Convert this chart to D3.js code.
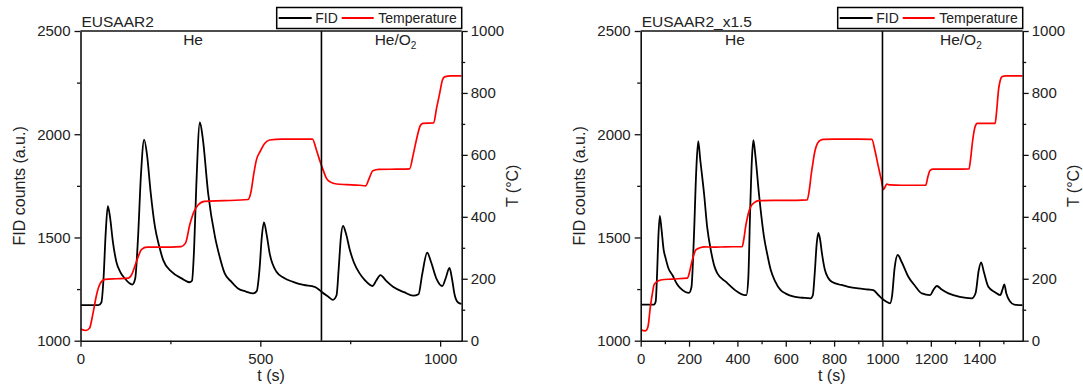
<!DOCTYPE html>
<html>
<head>
<meta charset="utf-8">
<script src="https://cdn.jsdelivr.net/npm/d3@7"></script>
<style>
  html, body { margin: 0; padding: 0; background: #fff; }
  svg { display: block; font-family: "Liberation Sans", Arial, sans-serif; }
</style>
</head>
<body>
<svg id="chart" width="1083" height="389"></svg>
<script>
// ---- Data -------------------------------------------------------------
const titles = ["EUSAAR2", "EUSAAR2_x1.5"];
const legendLabels = ["FID", "Temperature"];
const phaseLabels = ["He", "He/O"];
const fidTicks = [1000, 1500, 2000, 2500];
const fidMinorTicks = [1250, 1750, 2250];
const tempTicks = [0, 200, 400, 600, 800, 1000];
const tempMinorTicks = [100, 300, 500, 700, 900];
const timeTicksA = [0, 500, 1000];
const timeMinorTicksA = [250, 750];
const timeTicksB = [0, 200, 400, 600, 800, 1000, 1200, 1400];
const timeMinorTicksB = [100, 300, 500, 700, 900, 1100, 1300, 1500];
const timeMaxA = 1060;
const timeMaxB = 1580;
const switchTimeA = 670;   // carrier gas switch He -> He/O2
const switchTimeB = 1000;
const phaseLabelTimeA = [313, 818];
const phaseLabelTimeB = [390, 1238];

// FID signal, protocol EUSAAR2: [t (s), counts]
const fidA = [
  [0,1172],[50,1172],[58,1185],[64,1300],[70,1520],[76,1652],[82,1600],[90,1480],
  [100,1380],[110,1335],[124,1300],[135,1280],[144,1272],[152,1300],[160,1500],
  [168,1800],[177,1974],[185,1900],[195,1720],[207,1552],[220,1450],[230,1390],
  [253,1334],[281,1302],[304,1283],[310,1290],[316,1450],[322,1750],[332,2057],
  [340,1980],[355,1713],[374,1503],[385,1420],[401,1326],[420,1285],[438,1253],
  [460,1238],[480,1229],[490,1240],[498,1350],[504,1500],[510,1573],[518,1510],
  [526,1423],[545,1334],[565,1305],[591,1285],[620,1270],[651,1261],[660,1252],
  [670,1237],[690,1212],[702,1198],[712,1220],[718,1350],[724,1500],[730,1556],
  [738,1520],[749,1439],[760,1380],[776,1326],[790,1295],[812,1265],[822,1290],
  [834,1318],[850,1290],[869,1261],[900,1235],[925,1218],[940,1225],[950,1320],
  [964,1426],[975,1380],[990,1300],[1006,1265],[1015,1300],[1026,1352],[1033,1300],
  [1040,1225],[1050,1185],[1060,1178]
];
// Oven temperature, protocol EUSAAR2: [t (s), °C]
const tempA = [
  [0,38],[15,33],[25,40],[35,90],[45,150],[55,185],[68,198],[100,200],[133,202],
  [143,215],[151,240],[160,270],[170,295],[185,302],[220,302],[280,304],[292,315],
  [304,375],[315,415],[327,438],[345,450],[400,452],[466,456],[474,480],[482,540],
  [489,583],[500,612],[512,637],[526,648],[560,651],[600,651],[645,651],[655,620],
  [665,583],[675,550],[684,524],[695,512],[712,506],[740,504],[776,502],[793,500],
  [803,525],[813,549],[830,553],[880,554],[915,555],[925,600],[934,648],[945,695],
  [952,702],[982,703],[990,750],[999,800],[1006,840],[1012,852],[1030,855],[1060,855]
];
// FID signal, protocol EUSAAR2_x1.5
const fidB = [
  [0,1175],[55,1175],[62,1190],[68,1330],[73,1500],[79,1605],[86,1540],[95,1440],
  [103,1400],[115,1350],[131,1318],[150,1275],[165,1253],[185,1236],[200,1232],
  [210,1260],[220,1500],[230,1830],[238,1966],[246,1880],[262,1713],[275,1550],
  [290,1439],[305,1360],[317,1326],[352,1286],[400,1237],[425,1222],[437,1221],
  [445,1300],[452,1600],[460,1880],[466,1971],[474,1900],[489,1713],[510,1503],
  [525,1410],[538,1342],[555,1290],[579,1245],[600,1228],[634,1213],[670,1208],
  [703,1205],[712,1220],[720,1330],[728,1470],[735,1522],[742,1490],[750,1420],
  [762,1342],[775,1305],[790,1286],[830,1270],[859,1261],[900,1253],[940,1248],
  [962,1245],[980,1225],[997,1205],[1015,1190],[1031,1181],[1040,1220],[1050,1350],
  [1063,1415],[1080,1380],[1107,1310],[1135,1265],[1163,1229],[1197,1221],[1210,1245],
  [1225,1265],[1245,1248],[1273,1229],[1320,1212],[1369,1205],[1385,1230],[1398,1340],
  [1408,1379],[1420,1330],[1438,1261],[1465,1235],[1487,1221],[1497,1250],[1504,1273],
  [1512,1230],[1528,1190],[1545,1175],[1580,1172]
];
// Oven temperature, protocol EUSAAR2_x1.5
const tempB = [
  [0,35],[20,32],[30,45],[40,110],[50,160],[55,180],[70,192],[83,196],[130,199],
  [193,202],[200,215],[207,239],[217,270],[228,293],[245,300],[262,303],[300,302],
  [350,303],[420,304],[427,330],[434,368],[445,410],[455,433],[470,446],[489,452],
  [550,453],[600,453],[689,455],[698,490],[705,535],[710,562],[720,610],[731,637],
  [745,648],[756,650],[800,651],[900,651],[956,650],[970,610],[983,562],[995,520],
  [1004,488],[1010,495],[1018,506],[1030,503],[1080,502],[1179,502],[1188,530],
  [1197,550],[1210,554],[1300,554],[1358,555],[1365,590],[1372,640],[1383,691],
  [1392,702],[1466,702],[1472,740],[1480,810],[1487,840],[1494,852],[1510,855],[1580,855]
];

// ---- Drawing -----------------------------------------------------------
const svg = d3.select("#chart");
const TEXT = "#222";
const FONT = 15;
const fmt = d3.format("d");

const panels = [
  { left: 80.5, right: 461.7, title: titles[0], fid: fidA, temp: tempA, tMax: timeMaxA,
    ticks: timeTicksA, minor: timeMinorTicksA, sw: switchTimeA, labelT: phaseLabelTimeA, id: "a" },
  { left: 640.7, right: 1022.7, title: titles[1], fid: fidB, temp: tempB, tMax: timeMaxB,
    ticks: timeTicksB, minor: timeMinorTicksB, sw: switchTimeB, labelT: phaseLabelTimeB, id: "b" }
];
const plotTop = 31, plotBottom = 340.7;

function styleAxis(g) {
  g.selectAll("path.domain").attr("stroke", "#111").attr("stroke-width", 1.6);
  g.selectAll(".tick line").attr("stroke", "#111").attr("stroke-width", 1.3);
  g.selectAll(".tick text").attr("fill", TEXT).style("font-size", FONT + "px")
    .style("font-family", '"Liberation Sans", Arial, sans-serif');
}

panels.forEach(p => {
  const x = d3.scaleLinear().domain([0, p.tMax]).range([p.left, p.right]);
  const yF = d3.scaleLinear().domain([1000, 2500]).range([plotBottom, plotTop]);
  const yT = d3.scaleLinear().domain([0, 1000]).range([plotBottom, plotTop]);

  const clipId = "clip-" + p.id;
  svg.append("clipPath").attr("id", clipId).append("rect")
    .attr("x", p.left).attr("y", plotTop).attr("width", p.right - p.left).attr("height", plotBottom - plotTop);

  const curve = d3.curveMonotoneX;
  const plot = svg.append("g").attr("clip-path", `url(#${clipId})`);
  plot.append("path").datum(p.fid)
    .attr("d", d3.line().x(d => x(d[0])).y(d => yF(d[1])).curve(curve))
    .attr("fill", "none").attr("stroke", "#000").attr("stroke-width", 1.8)
    .attr("stroke-linejoin", "round");
  plot.append("path").datum(p.temp)
    .attr("d", d3.line().x(d => x(d[0])).y(d => yT(d[1])).curve(curve))
    .attr("fill", "none").attr("stroke", "#f00").attr("stroke-width", 1.7)
    .attr("stroke-linejoin", "round");

  // gas switch marker
  svg.append("line").attr("x1", x(p.sw)).attr("x2", x(p.sw)).attr("y1", plotTop).attr("y2", plotBottom)
    .attr("stroke", "#000").attr("stroke-width", 1.6);

  // frame top
  svg.append("line").attr("x1", p.left).attr("x2", p.right).attr("y1", plotTop).attr("y2", plotTop)
    .attr("stroke", "#111").attr("stroke-width", 1.6);

  // bottom axis
  const gxMinor = svg.append("g").attr("transform", `translate(0,${plotBottom})`)
    .call(d3.axisBottom(x).tickValues(p.minor).tickSize(3.5).tickSizeOuter(0).tickFormat(""));
  gxMinor.select("path.domain").remove();
  styleAxis(gxMinor);
  const gx = svg.append("g").attr("transform", `translate(0,${plotBottom})`)
    .call(d3.axisBottom(x).tickValues(p.ticks).tickFormat(fmt).tickSize(6).tickSizeOuter(0));
  styleAxis(gx);
  gx.selectAll(".tick text").attr("dy", "0.71em").attr("y", 13);

  // left axis (FID)
  const gyMinor = svg.append("g").attr("transform", `translate(${p.left},0)`)
    .call(d3.axisLeft(yF).tickValues(fidMinorTicks).tickSize(3.5).tickSizeOuter(0).tickFormat(""));
  gyMinor.select("path.domain").remove();
  styleAxis(gyMinor);
  const gy = svg.append("g").attr("transform", `translate(${p.left},0)`)
    .call(d3.axisLeft(yF).tickValues(fidTicks).tickFormat(fmt).tickSize(6).tickSizeOuter(0).tickPadding(4));
  styleAxis(gy);

  // right axis (temperature)
  const grMinor = svg.append("g").attr("transform", `translate(${p.right},0)`)
    .call(d3.axisRight(yT).tickValues(tempMinorTicks).tickSize(3.5).tickSizeOuter(0).tickFormat(""));
  grMinor.select("path.domain").remove();
  styleAxis(grMinor);
  const gr = svg.append("g").attr("transform", `translate(${p.right},0)`)
    .call(d3.axisRight(yT).tickValues(tempTicks).tickFormat(fmt).tickSize(6).tickSizeOuter(0).tickPadding(3));
  styleAxis(gr);

  // axis titles
  svg.append("text").attr("transform", `translate(${p.left - 61},${(plotTop + plotBottom) / 2}) rotate(-90)`)
    .attr("text-anchor", "middle").attr("dy", "0.35em").attr("fill", TEXT)
    .style("font-size", "16px").text("FID counts (a.u.)");
  svg.append("text").attr("transform", `translate(${p.right + 51},${(plotTop + plotBottom) / 2}) rotate(-90)`)
    .attr("text-anchor", "middle").attr("dy", "0.35em").attr("fill", TEXT)
    .style("font-size", "16px").text("T (°C)");
  svg.append("text").attr("x", (p.left + p.right) / 2).attr("y", 381)
    .attr("text-anchor", "middle").attr("fill", TEXT).style("font-size", "16px").text("t (s)");

  // panel title
  svg.append("text").attr("x", p.left + 1).attr("y", 27).attr("fill", TEXT)
    .style("font-size", "15.5px").text(p.title);

  // phase labels
  svg.append("text").attr("x", x(p.labelT[0])).attr("y", 45).attr("text-anchor", "middle")
    .attr("fill", TEXT).style("font-size", "15.5px").text(phaseLabels[0]);
  const ph = svg.append("text").attr("x", x(p.labelT[1])).attr("y", 45)
    .attr("fill", TEXT).style("font-size", "15.5px");
  ph.append("tspan").text(phaseLabels[1]);
  ph.append("tspan").attr("dy", 4).style("font-size", "10px").text("2");

  // legend
  const lw = 185, lh = 21;
  const lx = p.right - lw, ly = 7.5;
  const lg = svg.append("g").attr("transform", `translate(${lx},${ly})`);
  lg.append("rect").attr("width", lw).attr("height", lh).attr("fill", "#fff")
    .attr("stroke", "#000").attr("stroke-width", 1.5);
  lg.append("line").attr("x1", 2).attr("x2", 35).attr("y1", 10.5).attr("y2", 10.5)
    .attr("stroke", "#000").attr("stroke-width", 1.8);
  lg.append("text").attr("x", 38.5).attr("y", 15.5).attr("fill", TEXT)
    .style("font-size", "14px").text(legendLabels[0]);
  lg.append("line").attr("x1", 65).attr("x2", 97).attr("y1", 10.5).attr("y2", 10.5)
    .attr("stroke", "#f00").attr("stroke-width", 1.8);
  lg.append("text").attr("x", 101.5).attr("y", 15.5).attr("fill", TEXT)
    .style("font-size", "14px").text(legendLabels[1]);
});
</script>
</body>
</html>
